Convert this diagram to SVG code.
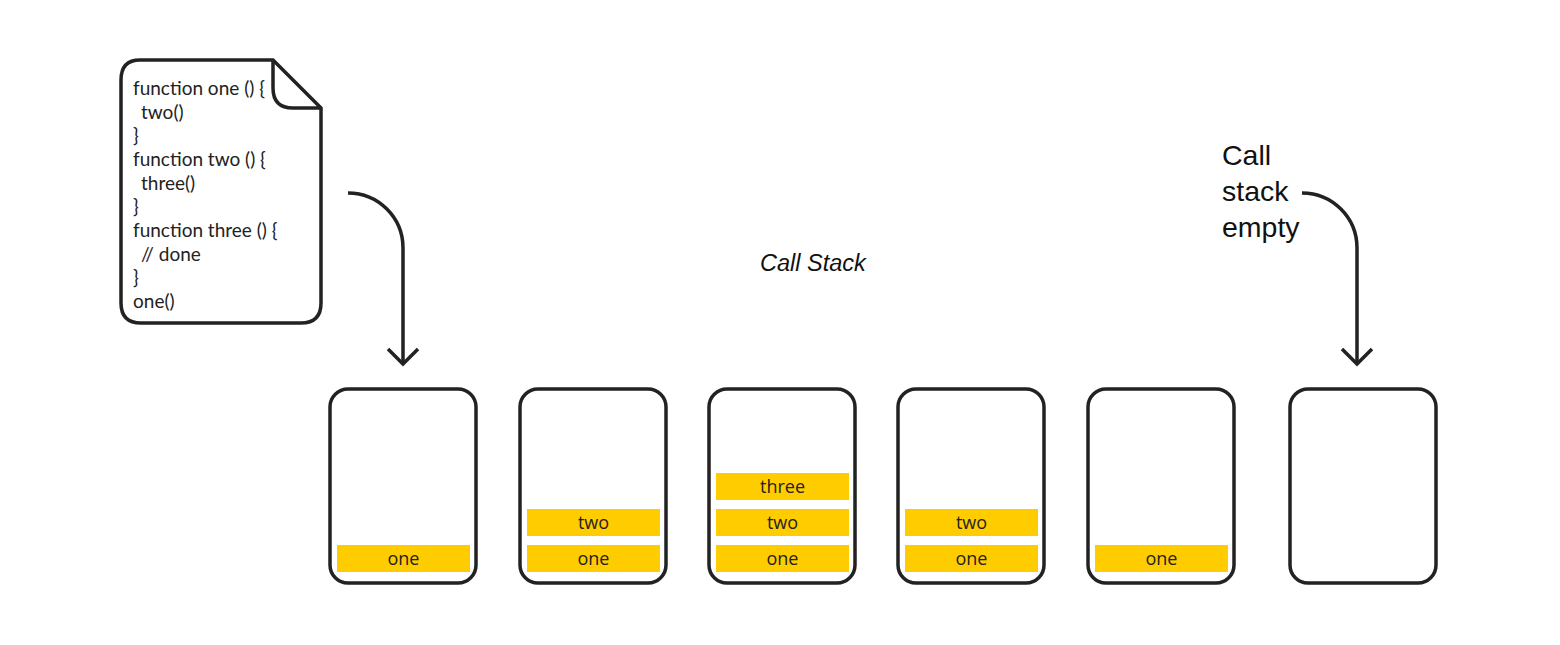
<svg xmlns="http://www.w3.org/2000/svg" width="1560" height="645" viewBox="0 0 1560 645">
  <defs>
    <style>
      .box { fill: #ffffff; stroke: #222222; stroke-width: 3.5; }
      .bar { fill: #ffcc00; }
      .bartxt { font-family: "Open Sans", "Liberation Sans", sans-serif; font-size: 18px; fill: #222222; text-anchor: middle; }
      .code { font-family: "Lato", "Liberation Sans", sans-serif; font-size: 19px; fill: #222222; }
      .conn { fill: none; stroke: #222222; stroke-width: 3.5; stroke-linecap: butt; stroke-linejoin: miter; }
      .label { font-family: "Liberation Sans", Arial, sans-serif; fill: #111111; }
    </style>
  </defs>
  <rect width="1560" height="645" fill="#ffffff"/>

  <g id="source-file">
    <path class="box" d="M140,60 L273,60 L321,108 L321,303 Q321,323 301,323 L141,323 Q121,323 121,303 L121,80 Q121,60 140,60 Z"/>
    <path class="conn" d="M273,60 L273,88 Q273,108 293,108 L321,108"/>
    <text class="code" x="133" y="95">function one () {</text>
    <text class="code" x="141" y="118.7">two()</text>
    <text class="code" x="133" y="142.3">}</text>
    <text class="code" x="133" y="166">function two () {</text>
    <text class="code" x="141" y="189.7">three()</text>
    <text class="code" x="133" y="213.3">}</text>
    <text class="code" x="133" y="237">function three () {</text>
    <text class="code" x="141" y="260.7">// done</text>
    <text class="code" x="133" y="284.3">}</text>
    <text class="code" x="133" y="308">one()</text>
  </g>

  <g id="title">
    <text class="label" x="760" y="271" font-size="23.5" font-style="italic">Call Stack</text>
  </g>

  <g id="empty-label">
    <text class="label" x="1222" y="165" font-size="28.5">Call</text>
    <text class="label" x="1222" y="201" font-size="28.5">stack</text>
    <text class="label" x="1222" y="237" font-size="28.5">empty</text>
  </g>

  <g id="connectors">
    <path class="conn" d="M348,193 A55,55 0 0 1 403,248 L403,364"/>
    <path class="conn" d="M388,349 L403,364 L418,349"/>
    <path class="conn" d="M1302,193 A55,55 0 0 1 1357,248 L1357,364"/>
    <path class="conn" d="M1342,349 L1357,364 L1372,349"/>
  </g>

  <g id="stack-1">
    <rect class="box" x="330" y="389" width="146" height="194" rx="18"/>
    <rect class="bar" x="337" y="545" width="133" height="27"/>
    <text class="bartxt" x="403.5" y="565">one</text>
  </g>

  <g id="stack-2">
    <rect class="box" x="520" y="389" width="146" height="194" rx="18"/>
    <rect class="bar" x="527" y="509" width="133" height="27"/>
    <text class="bartxt" x="593.5" y="529">two</text>
    <rect class="bar" x="527" y="545" width="133" height="27"/>
    <text class="bartxt" x="593.5" y="565">one</text>
  </g>

  <g id="stack-3">
    <rect class="box" x="709" y="389" width="146" height="194" rx="18"/>
    <rect class="bar" x="716" y="473" width="133" height="27"/>
    <text class="bartxt" x="782.5" y="493">three</text>
    <rect class="bar" x="716" y="509" width="133" height="27"/>
    <text class="bartxt" x="782.5" y="529">two</text>
    <rect class="bar" x="716" y="545" width="133" height="27"/>
    <text class="bartxt" x="782.5" y="565">one</text>
  </g>

  <g id="stack-4">
    <rect class="box" x="898" y="389" width="146" height="194" rx="18"/>
    <rect class="bar" x="905" y="509" width="133" height="27"/>
    <text class="bartxt" x="971.5" y="529">two</text>
    <rect class="bar" x="905" y="545" width="133" height="27"/>
    <text class="bartxt" x="971.5" y="565">one</text>
  </g>

  <g id="stack-5">
    <rect class="box" x="1088" y="389" width="146" height="194" rx="18"/>
    <rect class="bar" x="1095" y="545" width="133" height="27"/>
    <text class="bartxt" x="1161.5" y="565">one</text>
  </g>

  <g id="stack-6">
    <rect class="box" x="1290" y="389" width="146" height="194" rx="18"/>
  </g>
</svg>
